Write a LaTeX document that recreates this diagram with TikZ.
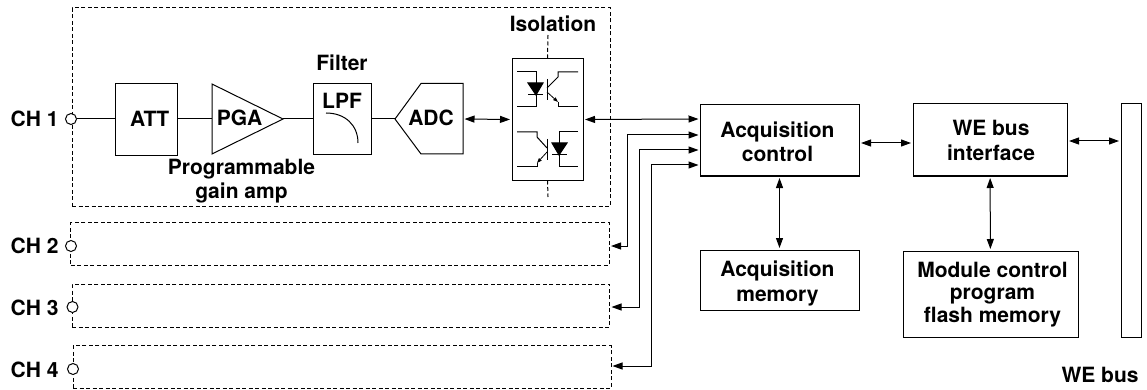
\documentclass[tikz,border=0pt]{standalone}
\usepackage{fontspec}
\usepackage{tikz}
\usetikzlibrary{arrows.meta}
\setmainfont{TeX Gyre Heros}

\begin{document}
\begin{tikzpicture}[x=1pt, y=-1pt, line width=1pt,
    main/.style = {draw, inner sep=0pt, align=center},
    label/.style = {font=\fontsize{21}{24.5}\selectfont\bfseries, align=center, inner sep=0pt},
    frame/.style = {draw, dash pattern=on 4pt off 2.5pt, inner sep=0pt},
    jack/.style = {draw, circle, fill=white, minimum size=11pt, inner sep=0pt},
    link/.style = {{Triangle[length=10pt,width=7pt]}-{Triangle[length=10pt,width=7pt]}, shorten <=1.5pt, shorten >=1.5pt},
    small/.style = {-{Triangle[length=5pt,width=3.5pt]}, line width=.8pt}]
    \useasboundingbox (0,0) rectangle (1147,390);

    \node[frame, minimum width=538pt, minimum height=198pt] (frame1) at (341,107) {};
    \node[frame, minimum width=538.5pt, minimum height=42.3pt] (frame2) at (340.2,243.9) {};
    \node[frame, minimum width=537.5pt, minimum height=43pt] (frame3) at (341.2,305.5) {};
    \node[frame, minimum width=538pt, minimum height=42.3pt] (frame4) at (342,366.9) {};

    \node[jack] (jack1) at (71,119) {};
    \node[jack] (jack2) at (71,246) {};
    \node[jack] (jack3) at (72.5,307) {};
    \node[jack] (jack4) at (73,369) {};
    \node[label, anchor=east] (ch1) at (59,119) {CH 1};
    \node[label, anchor=east] (ch2) at (59,245.5) {CH 2};
    \node[label, anchor=east] (ch3) at (59,307.5) {CH 3};
    \node[label, anchor=east] (ch4) at (59,369.5) {CH 4};

    \node[main, minimum width=62.5pt, minimum height=72pt] (att) at (146.3,120) {};
    \node[label] (attname) at (149.7,119) {ATT};

    \coordinate (pgain) at (212,119);
    \coordinate (pgaout) at (283,119);
    \draw (212,84) -- (pgaout) -- (212,154) -- cycle;
    \node[label] (pganame) at (239.5,118) {PGA};

    \node[main, minimum width=58pt, minimum height=71pt] (lpf) at (342,119) {};
    \node[label] (lpfname) at (342,100.5) {LPF};
    \draw (326,113) .. controls (345,113) and (358,125) .. (358,143);

    \coordinate (adcin) at (395,119);
    \coordinate (adcout) at (463,119);
    \draw (adcin) -- (421,83.5) -- (463,83.5) -- (463,154) -- (421,154) -- cycle;
    \node[label] (adcname) at (431,117.5) {ADC};

    \node[main, minimum width=71pt, minimum height=121pt] (iso) at (547.5,119.5) {};
    \draw[dash pattern=on 4pt off 2.5pt] (548,35) -- (iso.north);
    \draw[dash pattern=on 4pt off 2.5pt] (iso.south) -- (548,197);

    \draw (517,72) -- (536,72) -- (536,107) -- (517,107);
    \draw[fill=black] (528,83) -- (543,83) -- (536,95) -- cycle;
    \draw (528,95) -- (543,95);
    \draw (547,79) -- (547,100);
    \draw (547,88) -- (558,77) -- (558,72) -- (578,72);
    \draw[small] (547,92) -- (558,102);
    \draw (558,102) -- (558,107) -- (578,107);

    \draw (578,132) -- (559,132) -- (559,167) -- (578,167);
    \draw[fill=black] (552,143) -- (567,143) -- (559,155) -- cycle;
    \draw (552,155) -- (567,155);
    \draw (547,139) -- (547,160);
    \draw (517,132) -- (537,132) -- (537,137) -- (547,148);
    \draw[small] (547,152) -- (537,163);
    \draw (537,163) -- (537,167) -- (517,167);

    \node[label] (filter) at (342,63) {Filter};
    \node[label] (isolation) at (553,24) {Isolation};
    \node[label] (gain) at (241.5,181) {Programmable\\gain amp};

    \node[main, minimum width=159pt, minimum height=71pt] (ctrl) at (779.5,140.5) {};
    \node[label] (ctrlname) at (777.5,142) {Acquisition\\control};
    \node[main, minimum width=159pt, minimum height=60pt] (mem) at (779.5,280) {};
    \node[label] (memname) at (777.5,283.5) {Acquisition\\memory};
    \node[main, minimum width=154pt, minimum height=72pt] (wif) at (990,140) {};
    \node[label] (wifname) at (991,140.5) {WE bus\\interface};
    \node[main, minimum width=175pt, minimum height=86pt] (flash) at (990.5,294) {};
    \node[label, font=\fontsize{21}{22.5}\selectfont\bfseries] (flashname) at (992.5,294.5) {Module control\\program\\flash memory};
    \node[main, minimum width=20pt, minimum height=233pt] (bus) at (1131,220.5) {};
    \node[label] (busname) at (1100,375) {WE bus};

    \coordinate (in1) at (700,119);
    \coordinate (in2) at (700,135);
    \coordinate (in3) at (700,150);
    \coordinate (in4) at (700,165);
    \coordinate (out2) at (609.5,246);
    \coordinate (out3) at (610,307);
    \coordinate (out4) at (611,366);
    \coordinate (mid) at (880,143);
    \coordinate (busin) at (1100,141);

    \draw (jack1) -- (jack1 -| att.west);
    \draw (att.east |- pgain) -- (pgain);
    \draw (pgaout) -- (lpf);
    \draw (lpf) -- (adcin);
    \draw[link] (adcout) -- (iso.west);
    \draw[link] (iso.east) -- (in1);
    \draw[link] (out2) -- (627,246) -- (627,135) -- (in2);
    \draw[link] (out3) -- (639,307) -- (639,150) -- (in3);
    \draw[link] (out4) -- (651,366) -- (651,165) -- (in4);
    \draw[link] (mid -| ctrl.east) -- (mid -| wif.west);
    \draw[link] (ctrl) -- (mem);
    \draw[link] (wif) -- (flash);
    \draw[link] (busin -| wif.east) -- (busin -| bus.west);
\end{tikzpicture}
\end{document}
